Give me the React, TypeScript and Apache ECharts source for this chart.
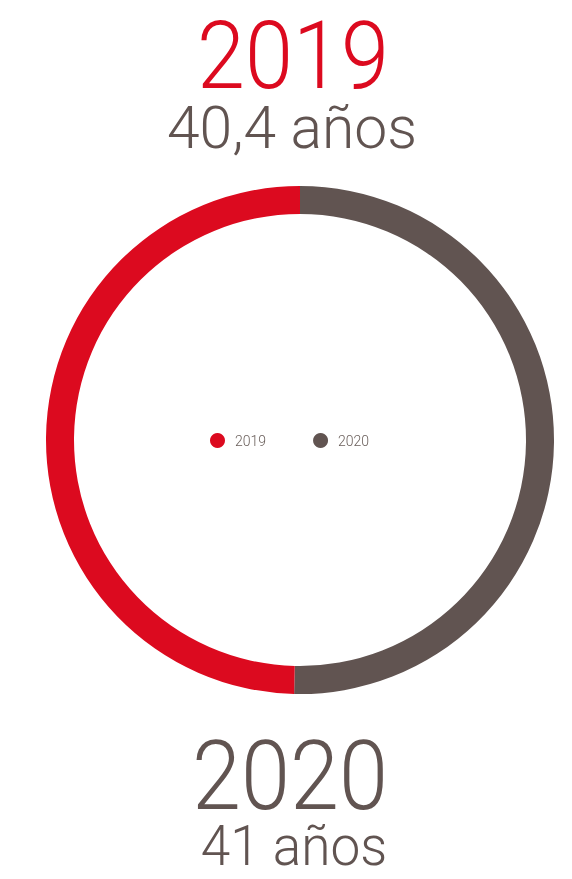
import React, { useEffect, useRef } from 'react';
import * as echarts from 'echarts';

const categories = ['2019', '2020'];
const ages = [40.4, 41];
const ageLabels = ['40,4 años', '41 años'];
const colors = ['#dc0a1f', '#615451'];
const legendTextColor = '#6b605c';

export default function App() {
  const ref = useRef<HTMLDivElement>(null);
  useEffect(() => {
    const chart = echarts.init(ref.current!, null, { renderer: 'svg' });
    const sliceOrder = [1, 0];
    const bigFont = (size: number) => `300 ${size}px Roboto`;
    chart.setOption({
      animation: false,
      color: colors,
      legend: {
        data: categories,
        left: 205,
        top: 428,
        icon: 'circle',
        itemWidth: 15,
        itemHeight: 15,
        itemGap: 47,
        selectedMode: false,
        textStyle: {
          color: legendTextColor,
          fontSize: 14,
          fontFamily: 'Roboto',
          fontWeight: 300,
          padding: [0, 0, 0, 5],
        },
      },
      graphic: [
        {
          type: 'text',
          x: 293,
          y: 56,
          scaleX: 0.92,
          style: { text: categories[0], x: 0, y: 0, fill: colors[0], font: bigFont(94), textAlign: 'center', textVerticalAlign: 'middle' },
        },
        {
          type: 'text',
          x: 292,
          y: 128,
          scaleX: 0.98,
          style: { text: ageLabels[0], x: 0, y: 0, fill: colors[1], font: bigFont(60), textAlign: 'center', textVerticalAlign: 'middle' },
        },
        {
          type: 'text',
          x: 290,
          y: 776,
          scaleX: 0.92,
          style: { text: categories[1], x: 0, y: 0, fill: colors[1], font: bigFont(96), textAlign: 'center', textVerticalAlign: 'middle' },
        },
        {
          type: 'text',
          x: 294,
          y: 846,
          scaleX: 0.95,
          style: { text: ageLabels[1], x: 0, y: 0, fill: colors[1], font: bigFont(56), textAlign: 'center', textVerticalAlign: 'middle' },
        },
      ],
      series: [
        {
          type: 'pie',
          center: [300, 440],
          radius: [226, 254],
          startAngle: 90,
          clockwise: true,
          silent: true,
          label: { show: false },
          labelLine: { show: false },
          itemStyle: { borderWidth: 0 },
          data: sliceOrder.map((i) => ({
            name: categories[i],
            value: ages[i],
            itemStyle: { color: colors[i] },
          })),
        },
      ],
    });
    return () => chart.dispose();
  }, []);
  return <div ref={ref} style={{ position: 'fixed', left: 0, top: 0, width: 572, height: 879 }} />;
}
